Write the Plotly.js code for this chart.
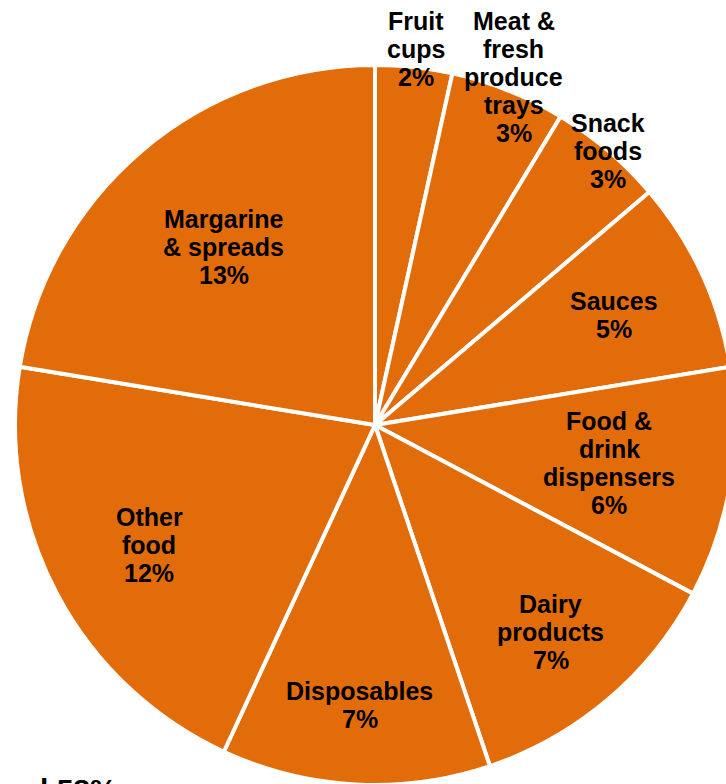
<!DOCTYPE html>
<html>
<head>
<meta charset="utf-8">
<script src="https://cdn.plot.ly/plotly-3.0.1.min.js"></script>
<style>
  html, body { margin: 0; padding: 0; overflow: hidden; background: #fff; }
  #chart { width: 750px; height: 850px; }
</style>
</head>
<body>
<div id="chart"></div>
<script>
// Data
const categories = [
  "Fruit cups",
  "Meat & fresh produce trays",
  "Snack foods",
  "Sauces",
  "Food & drink dispensers",
  "Dairy products",
  "Disposables",
  "Other food",
  "Margarine & spreads"
];
const values = [2, 3, 3, 5, 6, 7, 7, 12, 13];
const labelLines = [
  ["Fruit", "cups"],
  ["Meat &", "fresh", "produce", "trays"],
  ["Snack", "foods"],
  ["Sauces"],
  ["Food &", "drink", "dispensers"],
  ["Dairy", "products"],
  ["Disposables"],
  ["Other", "food"],
  ["Margarine", "& spreads"]
];
const totalLabel = "l 58%";

// Style: radial placement of each label as a fraction of the pie radius
const labelRadius = [1.05, 1.04, 1.0, 0.73, 0.66, 0.755, 0.78, 0.71, 0.65];
const lineSpacing = 28;
const labelFont = { family: "Liberation Sans, Arial, sans-serif", size: 25, color: "#000" };

const total = values.reduce((a, b) => a + b, 0);
const annotations = [];
let cum = 0;
values.forEach((v, i) => {
  const mid = (cum + v / 2) / total * 2 * Math.PI;
  cum += v;
  const rf = labelRadius[i] * 0.5;
  const x = 0.5 + rf * Math.sin(mid);
  const y = 0.5 + rf * Math.cos(mid);
  const lines = labelLines[i].concat([v + "%"]);
  const n = lines.length;
  lines.forEach((ln, k) => {
    annotations.push({
      xref: "paper", yref: "paper",
      x: x, y: y,
      xanchor: "center", yanchor: "middle",
      yshift: -(k - (n - 1) / 2) * lineSpacing,
      showarrow: false,
      text: "<b>" + ln.replace(/&/g, "&amp;") + "</b>",
      font: labelFont
    });
  });
});
annotations.push({
  xref: "paper", yref: "paper",
  x: 0.032, y: 0.019,
  xanchor: "left", yanchor: "top",
  showarrow: false,
  text: "<b>" + totalLabel + "</b>",
  font: { family: "Liberation Sans, Arial, sans-serif", size: 30, color: "#000" }
});

const trace = {
  type: "pie",
  labels: categories,
  values: values,
  sort: false,
  direction: "clockwise",
  rotation: 0,
  textinfo: "none",
  hoverinfo: "label+percent",
  marker: {
    colors: categories.map(() => "#E36C0A"),
    line: { color: "#FFFFFF", width: 4 }
  },
  domain: { x: [0, 1], y: [0, 1] }
};

const layout = {
  width: 750,
  height: 850,
  margin: { l: 15, r: 15, t: 65, b: 65, pad: 0 },
  showlegend: false,
  paper_bgcolor: "#FFFFFF",
  plot_bgcolor: "#FFFFFF",
  annotations: annotations
};

Plotly.newPlot("chart", [trace], layout, { staticPlot: true, displayModeBar: false });
</script>
</body>
</html>
